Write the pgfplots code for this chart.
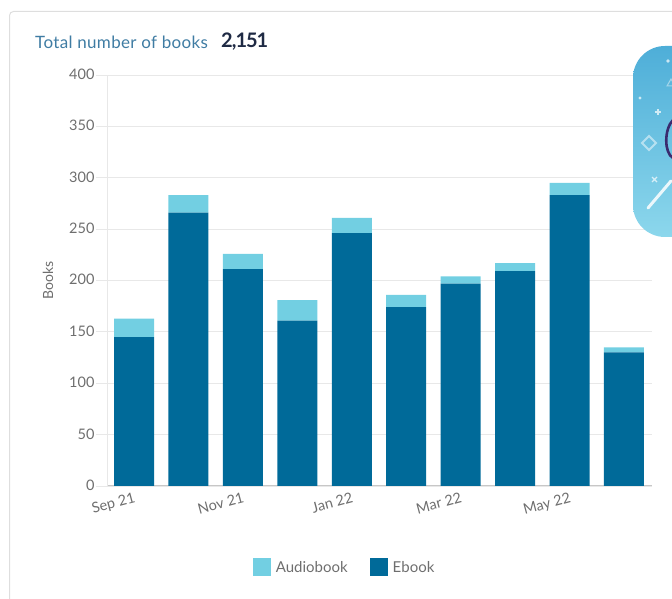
\documentclass[border=0pt]{standalone}
\usepackage{pgfplots}
\usepackage{pgfplotstable}
\usepackage{fontspec}
\setmainfont{Lato}
\newfontfamily\titlefont[LetterSpace=2]{Lato}
\newfontfamily\totalfont[LetterSpace=-5]{Lato}
\pgfplotsset{compat=1.18}
\definecolor{ebook}{HTML}{006A99}
\definecolor{audio}{HTML}{72CFE2}
\definecolor{gridc}{HTML}{E8E8E8}
\definecolor{txt}{HTML}{6E6E6E}
\definecolor{cardc}{HTML}{DEDEDE}
\definecolor{titlec}{HTML}{3F7CA3}
\definecolor{totalc}{HTML}{1F2A44}
\definecolor{badgetop}{HTML}{4EAED8}
\definecolor{badgebot}{HTML}{8CD7EC}
\definecolor{purplec}{HTML}{3A2A6E}

\pgfplotstableread{
x audio ebook
0 18 145
1 17 266
2 15 211
3 20 161
4 15 246
5 12 174
6 7 197
7 8 209
8 12 283
9 5 130
}\books

\begin{document}
\begin{tikzpicture}[x=1pt,y=1pt]
\path[use as bounding box] (0,0) rectangle (672,599);
\begin{scope}
\clip (0,0) rectangle (672,599);
\draw[cardc,line width=1pt,rounded corners=4pt] (9.5,-10) -- (9.5,587.5) -- (690,587.5);
\end{scope}
\node[anchor=base west,font=\fontsize{17}{20}\titlefont,text=titlec,inner sep=0] at (35,550.5) {Total number of books};
\node[anchor=base west,font=\fontsize{20}{24}\totalfont\bfseries,text=totalc,inner sep=0] at (221,551) {2,151};
\begin{axis}[
at={(107pt,113pt)},
anchor=south west,
scale only axis=true,
width=545pt, height=411pt,
ybar stacked,
bar width=40pt,
xmin=-0.496, xmax=9.515,
ymin=0, ymax=400,
ytick={0,50,...,400},
xtick={0,2,4,6,8},
xticklabels={Sep 21,Nov 21,Jan 22,Mar 22,May 22},
ymajorgrids=true,
grid style={gridc,line width=0.9pt},
axis x line*=bottom,
axis y line*=left,
axis line style={-,gridc,line width=0.9pt},
x axis line style={-,black!22,line width=1pt},
tick align=outside,
major tick length=11pt,
ytick style={gridc,line width=0.9pt},
xtick style={draw=none},
tick label style={text=txt},
/pgf/number format/assume math mode=true,
yticklabel style={font=\fontsize{14.5}{16}\selectfont,xshift=2pt,yshift=0.7pt},
xticklabel style={font=\fontsize{14.5}{15}\selectfont,rotate=15,anchor=north east,xshift=4pt,yshift=8.5pt},
every axis y label/.style={at={(rel axis cs:0,0.5)},xshift=-59pt,rotate=90,anchor=center,font=\fontsize{14}{15}\selectfont,text=txt},
ylabel={Books},
legend columns=2,
reverse legend,
legend style={at={(rel axis cs:0.436,-0.198)},anchor=center,draw=none,fill=none,
  font=\fontsize{15}{16}\selectfont,text=txt,
  /tikz/every even column/.append style={column sep=20pt},
  /tikz/every odd column/.append style={column sep=3pt}},
legend image code/.code={\fill[#1] (0pt,-9pt) rectangle (18pt,9pt);},
]
\addplot[fill=ebook,draw=none] table[x=x,y=ebook] {\books};
\addlegendentry{Ebook}
\addplot[fill=audio,draw=none] table[x=x,y=audio] {\books};
\addlegendentry{Audiobook}
\end{axis}
\begin{scope}
\clip (0,0) rectangle (672,599);
\shade[top color=badgetop,bottom color=badgebot,rounded corners=32pt] (633,362) rectangle (740,553);
\fill[white,opacity=.7] (640,501) circle (1.6);
\fill[white,opacity=.7] (668,538) circle (1.8);
\draw[white,opacity=.7,line width=1.4pt] (655,487) -- (661,487) (658,484) -- (658,490);
\draw[white,opacity=.5,line width=1.8pt] (649,449) -- (656,456) -- (649,463) -- (642,456) -- cycle;
\draw[white,opacity=.7,line width=1.3pt] (652,417) -- (657,422) (657,417) -- (652,422);
\draw[white,opacity=.45,line width=1pt] (667,513) -- (671,520) -- (675,513) -- cycle;
\draw[white,opacity=.85,line width=3pt,line cap=round] (648,391) -- (671,418);
\draw[purplec,line width=2.6pt] (673,479) .. controls (664,470) and (664,446) .. (673,441);
\end{scope}
\end{tikzpicture}
\end{document}
